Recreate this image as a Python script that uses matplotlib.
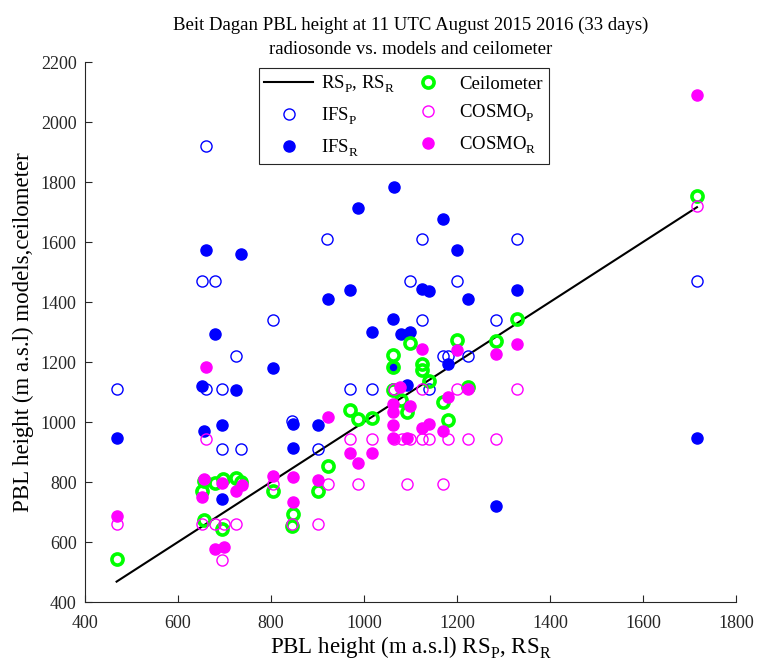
import numpy as np
import matplotlib
matplotlib.use('Agg')
import matplotlib.pyplot as plt

plt.rcParams['font.family'] = 'Liberation Serif'
plt.rcParams['mathtext.fontset'] = 'custom'
plt.rcParams['mathtext.rm'] = 'Liberation Serif'
plt.rcParams['mathtext.it'] = 'Liberation Serif:italic'

# push subscripts lower, like the MATLAB rendering
try:
    from matplotlib import _mathtext
    _mathtext.FontConstantsBase.sub1 = 0.5
    _mathtext.FontConstantsBase.sub2 = 0.65
except Exception:
    pass

# radiosonde 1:1 line
rs_line = [468, 1716]

# IFS vs RS_P (open blue)
ifs_p_x = [660, 920, 651, 679, 805, 1100, 1125, 1328, 1200, 1716, 1125, 1283, 725, 468,
           660, 695, 695, 735, 845, 902, 970, 1017, 1063, 1170, 1180, 1223, 1139]
ifs_p_y = [1920, 1610, 1470, 1470, 1340, 1470, 1610, 1610, 1470, 1470, 1340, 1340, 1220, 1110,
           1110, 1110, 910, 910, 1005, 910, 1110, 1110, 1110, 1220, 1220, 1220, 1110]

# IFS vs RS_R (filled blue)
ifs_r_x = [1065, 988, 660, 735, 922, 970, 1062, 1017, 1080, 1100, 679, 1170, 1200, 1125, 1140, 1223,
           1328, 805, 651, 725, 468, 656, 695, 847, 902, 847, 695, 1063, 1092, 1180, 1284, 1716]
ifs_r_y = [1785, 1715, 1575, 1560, 1410, 1440, 1345, 1300, 1295, 1300, 1293, 1678, 1575, 1443, 1438, 1410,
           1440, 1180, 1120, 1107, 948, 970, 990, 995, 990, 912, 745, 1185, 1123, 1192, 720, 948]

# ceilometer (thick green)
ceil_x = [1716, 1328, 1200, 1283, 1100, 468, 1062, 1062, 1062, 1080, 1092, 970, 988, 1017, 922, 902, 805,
          847, 845, 695, 657, 651, 657, 680, 697, 725, 735, 1125, 1125, 1140, 1223, 1170, 1180]
ceil_y = [1755, 1345, 1275, 1270, 1262, 545, 1225, 1185, 1108, 1073, 1035, 1040, 1010, 1015, 852, 770, 770,
          695, 655, 644, 673, 770, 805, 798, 810, 815, 800, 1195, 1175, 1136, 1118, 1068, 1007]

# COSMO vs RS_P (open magenta)
cosmo_p_x = [1716, 468, 660, 651, 680, 699, 725, 695, 805, 845, 902, 922, 988, 970, 1017, 1064, 1082,
             1098, 1125, 1140, 1180, 1223, 1284, 1092, 1170, 1125, 1200, 1328, 1064]
cosmo_p_y = [1720, 660, 945, 660, 660, 660, 660, 540, 795, 660, 660, 795, 795, 945, 945, 945, 945,
             945, 945, 945, 945, 945, 945, 795, 795, 1110, 1110, 1110, 1110]

# COSMO vs RS_R (filled magenta)
cosmo_r_x = [1716, 1328, 468, 660, 656, 651, 695, 725, 737, 680, 698, 805, 847, 848, 902, 922, 970,
             988, 1017, 1062, 1062, 1062, 1062, 1092, 1078, 1100, 1125, 1140, 1170, 1180, 1223, 1125,
             1200, 1284]
cosmo_r_y = [2090, 1260, 688, 1185, 810, 751, 798, 770, 790, 578, 582, 820, 816, 733, 806, 1018, 898,
             864, 897, 1060, 1032, 990, 948, 948, 1116, 1055, 980, 994, 969, 1082, 1110, 1244,
             1240, 1227]

fig = plt.figure(figsize=(7.58, 6.71), dpi=100)
ax = fig.add_axes([0.1121, 0.1028, 0.8589, 0.8048])

ms = 8
h_line, = ax.plot(rs_line, rs_line, color='k', lw=1.5, label=r'RS$_\mathrm{P}$, RS$_\mathrm{R}$', zorder=2)
h_ifsp, = ax.plot(ifs_p_x, ifs_p_y, 'o', ms=ms, mfc='none', mec='blue', mew=1.0,
                  label=r'IFS$_\mathrm{P}$', zorder=3)
h_ifsr, = ax.plot(ifs_r_x, ifs_r_y, 'o', ms=ms, mfc='blue', mec='blue', mew=1.0,
                  label=r'IFS$_\mathrm{R}$', zorder=3)
h_ceil, = ax.plot(ceil_x, ceil_y, 'o', ms=ms, mfc='none', mec=(0, 1, 0), mew=2.6,
                  label='Ceilometer', zorder=4)
h_cosp, = ax.plot(cosmo_p_x, cosmo_p_y, 'o', ms=ms, mfc='none', mec='magenta', mew=1.0,
                  label=r'COSMO$_\mathrm{P}$', zorder=4)
h_cosr, = ax.plot(cosmo_r_x, cosmo_r_y, 'o', ms=ms, mfc='magenta', mec='magenta', mew=1.0,
                  label=r'COSMO$_\mathrm{R}$', zorder=5)

ax.set_xlim(400, 1800)
ax.set_ylim(400, 2200)
ax.set_xticks(np.arange(400, 1801, 200))
ax.set_yticks(np.arange(400, 2201, 200))
ax.spines['top'].set_visible(False)
ax.spines['right'].set_visible(False)
for s in ['left', 'bottom']:
    ax.spines[s].set_color('#262626')
    ax.spines[s].set_linewidth(0.8)
ax.tick_params(direction='in', length=5, width=0.8, color='#262626', labelsize=13, labelcolor='#262626', pad=6)
ax.tick_params(axis='x', pad=9)

ax.set_xlabel(r'PBL height (m a.s.l) RS$_\mathrm{P}$, RS$_\mathrm{R}$', fontsize=16.5, labelpad=2)
ax.set_ylabel('PBL height (m a.s.l) models,ceilometer', fontsize=16.5, labelpad=5)
ax.set_title('Beit Dagan PBL height at 11 UTC August 2015 2016 (33 days)\nradiosonde vs. models and ceilometer',
             fontsize=13.5, linespacing=1.5, pad=6)

handles = [h_line, h_ifsp, h_ifsr, h_ceil, h_cosp, h_cosr]
leg = ax.legend(handles, [h.get_label() for h in handles],
                ncol=2, loc='upper left', bbox_to_anchor=(0.267, 0.989), borderaxespad=0,
                fontsize=13.5, frameon=True, fancybox=False, edgecolor='#262626', framealpha=1,
                handlelength=2.6, handletextpad=0.4, columnspacing=0.45, labelspacing=0.55,
                borderpad=0.3)
leg.get_frame().set_linewidth(0.8)

fig.savefig('out.png', dpi=100)
